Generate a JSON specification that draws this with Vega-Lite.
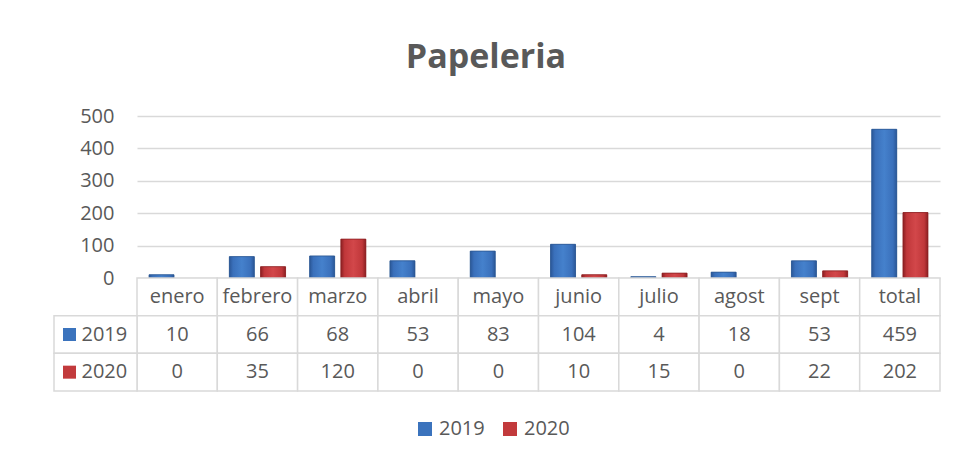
{
  "$schema": "https://vega.github.io/schema/vega-lite/v6.json",
  "background": "white",
  "padding": {"left": 53, "top": 41, "right": 10, "bottom": 10},
  "title": {"text": "Papeleria", "font": "Open Sans", "fontSize": 34, "fontWeight": "bold", "color": "#595959", "anchor": "middle", "offset": 31, "dx": -11},
  "datasets": {
    "t": [
      {"month": "enero", "series": "2019", "value": 10},
      {"month": "febrero", "series": "2019", "value": 66},
      {"month": "marzo", "series": "2019", "value": 68},
      {"month": "abril", "series": "2019", "value": 53},
      {"month": "mayo", "series": "2019", "value": 83},
      {"month": "junio", "series": "2019", "value": 104},
      {"month": "julio", "series": "2019", "value": 4},
      {"month": "agost", "series": "2019", "value": 18},
      {"month": "sept", "series": "2019", "value": 53},
      {"month": "total", "series": "2019", "value": 459},
      {"month": "enero", "series": "2020", "value": 0},
      {"month": "febrero", "series": "2020", "value": 35},
      {"month": "marzo", "series": "2020", "value": 120},
      {"month": "abril", "series": "2020", "value": 0},
      {"month": "mayo", "series": "2020", "value": 0},
      {"month": "junio", "series": "2020", "value": 10},
      {"month": "julio", "series": "2020", "value": 15},
      {"month": "agost", "series": "2020", "value": 0},
      {"month": "sept", "series": "2020", "value": 22},
      {"month": "total", "series": "2020", "value": 202}
    ]
  },
  "data": {"name": "t"},
  "spacing": 0,
  "bounds": "flush",
  "resolve": {"scale": {"x": "independent", "y": "independent", "color": "shared"}, "legend": {"color": "shared"}},
  "vconcat": [
    {
      "width": 803,
      "height": 162,
      "transform": [{"filter": "datum.value > 0"}],
      "encoding": {
        "x": {"field": "month", "type": "nominal", "sort": null, "axis": null,
              "scale": {"domain": ["enero","febrero","marzo","abril","mayo","junio","julio","agost","sept","total"], "paddingInner": 0.3, "paddingOuter": 0.15}},
        "xOffset": {"field": "series", "type": "nominal", "scale": {"domain": ["2019","2020"], "paddingInner": 0.2, "paddingOuter": 0}},
        "y": {"field": "value", "type": "quantitative",
              "scale": {"domain": [0, 500], "nice": false},
              "axis": {"values": [0,100,200,300,400,500], "title": null, "grid": true, "gridColor": "#d9d9d9", "gridWidth": 1.5, "domain": false, "ticks": false, "labelPadding": 23, "labelFont": "Open Sans", "labelFontSize": 20, "labelColor": "#595959"}}
      },
      "layer": [
        {
          "mark": {"type": "bar"},
          "encoding": {
            "color": {"field": "series", "type": "nominal",
                      "scale": {"domain": ["2019","2020"], "range": ["#3b73bd","#c23a3c"]},
                      "legend": {"orient": "none", "legendX": 278, "legendY": 303, "direction": "horizontal", "title": null, "symbolType": "square", "symbolSize": 196, "symbolStrokeWidth": 0, "labelFont": "Open Sans", "labelFontSize": 20, "labelColor": "#595959", "labelOffset": 4, "columnPadding": 15}}
          }
        },
        {
          "transform": [{"filter": "datum.series == '2019'"}],
          "mark": {"type": "bar", "stroke": "#2a5590", "strokeWidth": 0.8,
                   "color": {"gradient": "linear", "x1": 0, "x2": 1, "y1": 0, "y2": 0,
                             "stops": [{"offset": 0, "color": "#2b5797"}, {"offset": 0.15, "color": "#3a70bb"}, {"offset": 0.5, "color": "#4581cc"}, {"offset": 0.85, "color": "#3a70bb"}, {"offset": 1, "color": "#2b5797"}]}}
        },
        {
          "transform": [{"filter": "datum.series == '2020'"}],
          "mark": {"type": "bar", "stroke": "#8b1f22", "strokeWidth": 0.8,
                   "color": {"gradient": "linear", "x1": 0, "x2": 1, "y1": 0, "y2": 0,
                             "stops": [{"offset": 0, "color": "#8b1f22"}, {"offset": 0.15, "color": "#c0373a"}, {"offset": 0.5, "color": "#d2474a"}, {"offset": 0.85, "color": "#c0373a"}, {"offset": 1, "color": "#8b1f22"}]}}
        }
      ]
    },
    {
      "width": 803,
      "height": 113,
      "resolve": {"scale": {"x": "independent"}},
      "layer": [
        {
          "transform": [{"filter": "datum.series == '2019'"}],
          "mark": {"type": "rect", "fill": "white", "stroke": "#d9d9d9", "strokeWidth": 1.5},
          "encoding": {
            "x": {"field": "month", "type": "nominal", "sort": null, "axis": null,
                  "scale": {"domain": ["enero","febrero","marzo","abril","mayo","junio","julio","agost","sept","total"], "paddingInner": 0, "paddingOuter": 0}},
            "y": {"datum": "hdr", "type": "nominal", "axis": null, "scale": {"domain": ["hdr","2019","2020"], "paddingInner": 0, "paddingOuter": 0}}
          }
        },
        {
          "mark": {"type": "rect", "fill": "white", "stroke": "#d9d9d9", "strokeWidth": 1.5},
          "encoding": {
            "x": {"field": "month", "type": "nominal", "sort": null, "axis": null,
                  "scale": {"domain": ["enero","febrero","marzo","abril","mayo","junio","julio","agost","sept","total"], "paddingInner": 0, "paddingOuter": 0}},
            "y": {"field": "series", "type": "nominal", "axis": null}
          }
        },
        {
          "transform": [{"filter": "datum.series == '2019'"}],
          "mark": {"type": "text", "font": "Open Sans", "fontSize": 20, "color": "#595959", "baseline": "middle"},
          "encoding": {
            "x": {"field": "month", "type": "nominal", "sort": null, "axis": null,
                  "scale": {"domain": ["enero","febrero","marzo","abril","mayo","junio","julio","agost","sept","total"], "paddingInner": 0, "paddingOuter": 0}},
            "y": {"datum": "hdr", "type": "nominal", "axis": null},
            "text": {"field": "month"}
          }
        },
        {
          "mark": {"type": "text", "font": "Open Sans", "fontSize": 20, "color": "#595959", "baseline": "middle"},
          "encoding": {
            "x": {"field": "month", "type": "nominal", "sort": null, "axis": null,
                  "scale": {"domain": ["enero","febrero","marzo","abril","mayo","junio","julio","agost","sept","total"], "paddingInner": 0, "paddingOuter": 0}},
            "y": {"field": "series", "type": "nominal", "axis": null},
            "text": {"field": "value", "type": "quantitative"}
          }
        },
        {
          "transform": [{"filter": "datum.month == 'total'"}],
          "mark": {"type": "rect", "fill": "white", "stroke": "#d9d9d9", "strokeWidth": 1.5},
          "encoding": {
            "x": {"datum": "lbl", "type": "nominal", "axis": null, "scale": {"domain": ["lbl"], "range": [-83, 0], "paddingInner": 0, "paddingOuter": 0}},
            "y": {"field": "series", "type": "nominal", "axis": null}
          }
        },
        {
          "transform": [{"filter": "datum.month == 'total'"}],
          "mark": {"type": "text", "font": "Open Sans", "fontSize": 20, "color": "#595959", "baseline": "middle", "align": "left", "dx": -14},
          "encoding": {
            "x": {"datum": "lbl", "type": "nominal", "axis": null, "scale": {"domain": ["lbl"], "range": [-83, 0], "paddingInner": 0, "paddingOuter": 0}},
            "y": {"field": "series", "type": "nominal", "axis": null},
            "text": {"field": "series"}
          }
        },
        {
          "transform": [{"filter": "datum.month == 'total'"}],
          "mark": {"type": "point", "shape": "square", "filled": true, "size": 169, "opacity": 1, "xOffset": -26},
          "encoding": {
            "x": {"datum": "lbl", "type": "nominal", "axis": null, "scale": {"domain": ["lbl"], "range": [-83, 0], "paddingInner": 0, "paddingOuter": 0}},
            "y": {"field": "series", "type": "nominal", "axis": null},
            "color": {"field": "series", "type": "nominal"}
          }
        }
      ]
    }
  ],
  "config": {"view": {"stroke": null}, "font": "Open Sans"}
}
